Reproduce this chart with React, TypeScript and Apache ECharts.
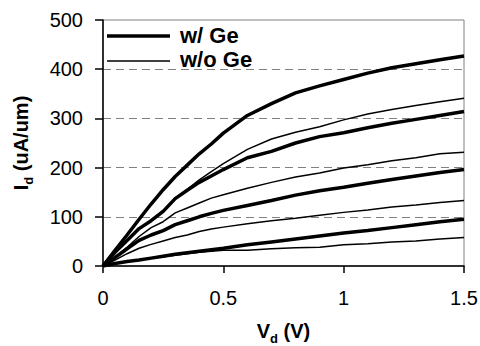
import React, { useEffect, useRef } from "react";
import * as echarts from "echarts";

// Drain voltage samples (V)
const vd = [0, 0.05, 0.1, 0.15, 0.2, 0.25, 0.3, 0.35, 0.4, 0.45, 0.5, 0.6, 0.7, 0.8, 0.9, 1.0, 1.1, 1.2, 1.3, 1.4, 1.5];

// w/ Ge (thick) curves, uA/um
const withGe1 = [0, 32, 63, 95, 126, 155, 182, 205, 228, 248, 270, 306, 330, 352, 366, 379, 392, 403, 411, 419, 427];
const withGe2 = [0, 28, 52, 76, 92, 111, 137, 154, 170, 183, 196, 220, 233, 250, 263, 271, 281, 290, 298, 306, 314];
const withGe3 = [0, 17, 35, 52, 63, 72, 84, 92, 100, 107, 113, 123, 133, 144, 153, 160, 168, 176, 183, 190, 196];
const withGe4 = [0, 5, 9, 12, 16, 20, 24, 27, 30, 33, 36, 43, 49, 55, 61, 67, 72, 78, 84, 90, 95];

// w/o Ge (thin) curves, uA/um
const noGe1 = [0, 27, 53, 75, 93, 113, 138, 156, 175, 192, 208, 237, 258, 272, 283, 297, 309, 318, 326, 334, 341];
const noGe2 = [0, 18, 38, 60, 78, 90, 108, 118, 128, 138, 145, 158, 170, 181, 189, 199, 206, 214, 220, 228, 231];
const noGe3 = [0, 12, 25, 36, 44, 51, 58, 63, 70, 75, 79, 86, 92, 97, 103, 109, 114, 120, 124, 129, 133];
const noGe4 = [0, 5, 9, 12, 16, 19, 22, 25, 28, 30, 32, 32, 35, 37, 38, 43, 45, 49, 51, 55, 58];

const yTicks = [0, 100, 200, 300, 400, 500];
const xTicks = [0, 0.5, 1, 1.5];
const legendNames = ["w/ Ge", "w/o Ge"];

const FONT = 'Arial, "Liberation Sans", sans-serif';
const THICK = 3.5;
const THIN = 1.5;

function pairs(ys: number[]) {
  return vd.map((v, i) => [v, ys[i]]);
}

export default function App() {
  const ref = useRef<HTMLDivElement>(null);
  useEffect(() => {
    if (!ref.current) return;
    const chart = echarts.init(ref.current, null, { renderer: "svg" });
    const line = (name: string, ys: number[], width: number) => ({
      type: "line",
      name,
      data: pairs(ys),
      showSymbol: false,
      symbol: "none",
      lineStyle: { color: "#000", width },
      itemStyle: { color: "#000" },
      z: width > 2 ? 3 : 2,
    });
    const legendItem = (i: number, width: number) => ({
      type: "group",
      children: [
        {
          type: "line",
          shape: { x1: 107, y1: 36 + i * 25, x2: 170, y2: 36 + i * 25 },
          style: { stroke: "#000", lineWidth: width },
        },
        {
          type: "text",
          x: 180,
          y: 35 + i * 24,
          style: {
            text: legendNames[i],
            fontFamily: FONT,
            fontSize: 22,
            fontWeight: "bold",
            fill: "#000",
            verticalAlign: "middle",
          },
        },
      ],
    });
    chart.setOption({
      animation: false,
      backgroundColor: "#fff",
      textStyle: { fontFamily: FONT },
      grid: {
        left: 103,
        right: 16,
        top: 20,
        bottom: 80,
        containLabel: false,
        outerBoundsMode: "none",
        show: true,
        borderColor: "#808080",
        borderWidth: 1,
      },
      graphic: [legendItem(0, THICK), legendItem(1, THIN)],
      xAxis: {
        type: "value",
        min: xTicks[0],
        max: xTicks[xTicks.length - 1],
        interval: 0.5,
        name: "{b|V}{s|d}{b| (V)}",
        nameLocation: "middle",
        nameGap: 55,
        nameTextStyle: {
          rich: {
            b: { fontFamily: FONT, fontSize: 20, fontWeight: "bold", color: "#000" },
            s: { fontFamily: FONT, fontSize: 13, fontWeight: "bold", color: "#000", verticalAlign: "bottom", padding: [0, 0, -4, 0] },
          },
        },
        axisLine: { show: true, onZero: false, lineStyle: { color: "#000", width: 1.5 } },
        axisTick: { show: true, inside: false, length: 7, lineStyle: { color: "#000", width: 1.5 } },
        axisLabel: { fontFamily: FONT, fontSize: 20, color: "#000", margin: 22 },
        splitLine: { show: false },
      },
      yAxis: {
        type: "value",
        min: yTicks[0],
        max: yTicks[yTicks.length - 1],
        interval: 100,
        name: "{b|I}{s|d}{b| (uA/um)}",
        nameLocation: "middle",
        nameGap: 72,
        nameTextStyle: {
          rich: {
            b: { fontFamily: FONT, fontSize: 20, fontWeight: "bold", color: "#000" },
            s: { fontFamily: FONT, fontSize: 13, fontWeight: "bold", color: "#000", verticalAlign: "bottom", padding: [0, 0, -4, 0] },
          },
        },
        axisLine: { show: true, onZero: false, lineStyle: { color: "#000", width: 1.5 } },
        axisTick: { show: true, inside: false, length: 8, lineStyle: { color: "#000", width: 1.5 } },
        axisLabel: { fontFamily: FONT, fontSize: 20, color: "#000", margin: 20 },
        splitLine: {
          show: true,
          showMinLine: false,
          showMaxLine: false,
          lineStyle: { color: "#808080", width: 1, type: [8, 5] },
        },
      },
      series: [
        line("w/ Ge", withGe1, THICK),
        line("w/o Ge", noGe1, THIN),
        line("w/ Ge", withGe2, THICK),
        line("w/o Ge", noGe2, THIN),
        line("w/ Ge", withGe3, THICK),
        line("w/o Ge", noGe3, THIN),
        line("w/ Ge", withGe4, THICK),
        line("w/o Ge", noGe4, THIN),
      ],
    });
    return () => chart.dispose();
  }, []);
  return (
    <div
      ref={ref}
      style={{ position: "fixed", left: 0, top: 0, width: 480, height: 346 }}
    />
  );
}
